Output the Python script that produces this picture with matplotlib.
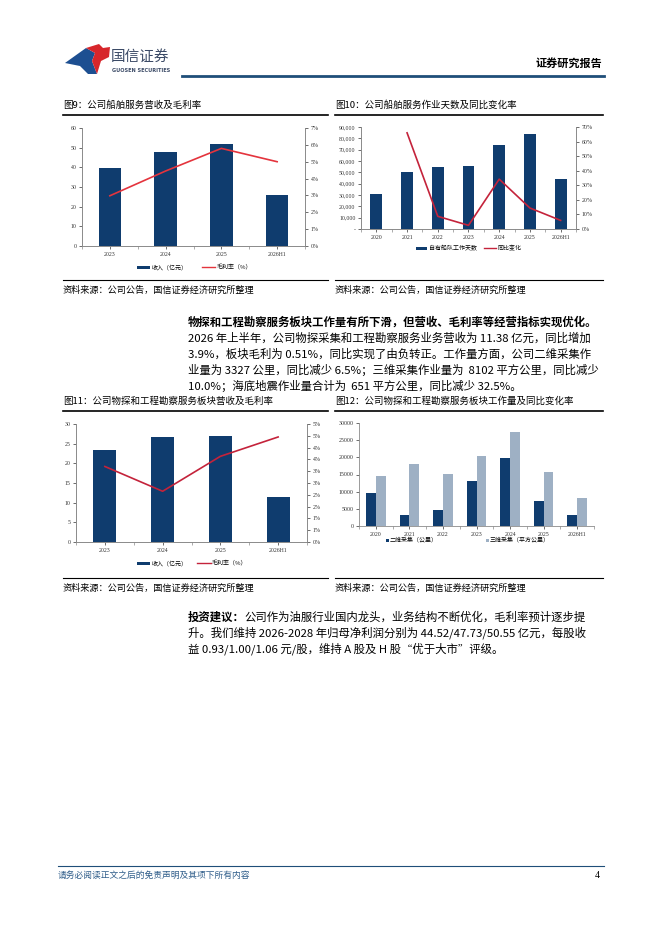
import numpy as np
import matplotlib
matplotlib.use('Agg')
import matplotlib.pyplot as plt
from matplotlib.patches import Polygon, Rectangle
from matplotlib.lines import Line2D

plt.rcParams['font.family'] = ['Noto Sans CJK SC', 'DejaVu Sans']

W, H = 662, 936
NAVY = '#0f3c6e'
LIGHT = '#9eb0c4'
RED9 = '#e4343d'
RED = '#c4233b'
AX = '#8a8a8a'
SERIF = ['Liberation Serif', 'DejaVu Serif']

# --- data -------------------------------------------------------------
yrs9 = ['2023', '2024', '2025', '2026H1']
rev9 = [39.5, 47.6, 51.9, 25.9]            # 亿元
gm9 = [2.98, 4.45, 5.79, 5.00]             # %

yrs10 = ['2020', '2021', '2022', '2023', '2024', '2025', '2026H1']
days10 = [30500, 50100, 54500, 55700, 74200, 83900, 44000]
yoy10 = [np.nan, 66.0, 8.7, 2.5, 34.2, 14.4, 5.9]   # %

yrs11 = ['2023', '2024', '2025', '2026H1']
rev11 = [23.5, 26.7, 26.9, 11.4]
gm11 = [3.2, 2.15, 3.63, 4.45]

yrs12 = ['2020', '2021', '2022', '2023', '2024', '2025', '2026H1']
d2 = [9580, 3290, 4550, 13060, 19830, 7160, 3190]    # 公里
d3 = [14500, 18090, 15190, 20310, 27270, 15770, 8120]  # 平方公里


def rect(x0, y0, x1, y1):
    return [x0 / W, 1 - y1 / H, (x1 - x0) / W, (y1 - y0) / H]


def style(ax, right=True):
    for s in ['left', 'bottom', 'right']:
        ax.spines[s].set_color(AX)
        ax.spines[s].set_linewidth(0.6)
    ax.spines['top'].set_visible(False)
    if not right:
        ax.spines['right'].set_visible(False)
    ax.tick_params(direction='out', length=2, width=0.5, colors='#333333',
                   labelsize=4.2, pad=2)
    for lab in ax.get_xticklabels() + ax.get_yticklabels():
        lab.set_family(SERIF)


def cat_ticks(ax, labels):
    n = len(labels)
    ax.set_xlim(-0.5, n - 0.5)
    ax.set_xticks(np.arange(n))
    ax.set_xticklabels(labels)
    ax.set_xticks(np.arange(-0.5, n, 1), minor=True)
    ax.tick_params(axis='x', which='major', length=0)
    ax.tick_params(axis='x', which='minor', length=2, width=0.5, color=AX)


fig = plt.figure(figsize=(W / 100, H / 100), dpi=100)
bg = fig.add_axes([0, 0, 1, 1])
bg.set_xlim(0, W)
bg.set_ylim(H, 0)
bg.axis('off')

# --- header -----------------------------------------------------------
bg.add_patch(Polygon([(65, 63), (86, 48), (95, 53), (92, 61), (97, 74), (88, 74), (80, 66)],
                     closed=True, color='#1d4f91', lw=0))
bg.add_patch(Polygon([(86, 48), (99, 44), (103, 48), (110, 47), (109, 57), (101, 61), (97, 74), (92, 61), (95, 53)],
                     closed=True, color='#d7262b', lw=0))
bg.text(111, 57, '国信证券', fontsize=10.5, color='#3b4a66', va='center', ha='left')
bg.text(112, 71, 'GUOSEN SECURITIES', fontsize=3.6, color='#3b4a66', va='center',
        ha='left', family=['DejaVu Sans'], weight='bold')
bg.plot([182, 604], [76, 76], color='#1f4e79', lw=2)
bg.text(602, 63, '证券研究报告', fontsize=8, weight='bold', ha='right', va='center')

# --- panel frames -----------------------------------------------------
titles = [(63, 105, '图9：公司船舶服务营收及毛利率', 63, 328),
          (335, 105, '图10：公司船舶服务作业天数及同比变化率', 335, 603),
          (63, 401, '图11：公司物探和工程勘察服务板块营收及毛利率', 63, 328),
          (335, 401, '图12：公司物探和工程勘察服务板块工作量及同比变化率', 335, 603)]
for x, y, t, a, b in titles:
    bg.text(x, y, t, fontsize=6.8, ha='left', va='center')
    bg.plot([a, b], [y + 10, y + 10], color='black', lw=1.2)

for a, b, y in [(63, 328, 280), (335, 603, 280), (63, 328, 578), (335, 603, 578)]:
    bg.plot([a, b], [y, y], color='black', lw=0.8)
    bg.text(a, y + 10, '资料来源：公司公告，国信证券经济研究所整理', fontsize=6.6,
            ha='left', va='center')

# --- chart 9 ----------------------------------------------------------
ax = fig.add_axes(rect(82, 128, 305, 246))
x = np.arange(len(yrs9))
ax.bar(x, rev9, width=0.4, color=NAVY)
cat_ticks(ax, yrs9)
ax.set_ylim(0, 60)
ax.set_yticks(np.arange(0, 61, 10))
style(ax)
ax2 = ax.twinx()
ax2.plot(x, gm9, color=RED9, lw=1.2)
ax2.set_ylim(0, 7)
ax2.set_yticks(np.arange(0, 8))
ax2.set_yticklabels([f'{i}%' for i in range(8)])
style(ax2)

bg.add_patch(Rectangle((137, 265.5), 13, 3, color=NAVY, lw=0))
bg.text(152, 267, '收入（亿元）', fontsize=4.3, va='center')
bg.add_line(Line2D([202, 215], [267, 267], color=RED9, lw=1))
bg.text(217, 267, '毛利率（%）', fontsize=4.3, va='center')

# --- chart 10 ---------------------------------------------------------
ax = fig.add_axes(rect(361, 127, 576, 229))
x = np.arange(len(yrs10))
ax.bar(x, days10, width=0.39, color=NAVY)
cat_ticks(ax, yrs10)
ax.set_ylim(0, 90000)
ax.set_yticks(np.arange(0, 90001, 10000))
ax.set_yticklabels(['-'] + [f'{v:,}' for v in range(10000, 90001, 10000)])
style(ax)
ax2 = ax.twinx()
ax2.plot(x, yoy10, color=RED, lw=1.2)
ax2.set_ylim(0, 70)
ax2.set_yticks(np.arange(0, 71, 10))
ax2.set_yticklabels([f'{v}%' for v in range(0, 71, 10)])
style(ax2)

bg.add_patch(Rectangle((416, 246.5), 11, 3, color=NAVY, lw=0))
bg.text(429, 248, '自有船队工作天数', fontsize=4.3, va='center')
bg.add_line(Line2D([484, 496], [248, 248], color=RED, lw=1))
bg.text(498, 248, '同比变化', fontsize=4.3, va='center')

# --- chart 11 ---------------------------------------------------------
ax = fig.add_axes(rect(76, 424, 307, 542))
x = np.arange(len(yrs11))
ax.bar(x, rev11, width=0.4, color=NAVY)
cat_ticks(ax, yrs11)
ax.set_ylim(0, 30)
ax.set_yticks(np.arange(0, 31, 5))
style(ax)
ax2 = ax.twinx()
ax2.plot(x, gm11, color=RED, lw=1.2)
ax2.set_ylim(0, 5)
ax2.set_yticks(np.arange(0, 5.01, 0.5))
ax2.set_yticklabels(['0%', '1%', '1%', '2%', '2%', '3%', '3%', '4%', '4%', '5%', '5%'])
style(ax2)

bg.add_patch(Rectangle((137, 561.5), 13, 3, color=NAVY, lw=0))
bg.text(152, 563, '收入（亿元）', fontsize=4.3, va='center')
bg.add_line(Line2D([197, 211], [563, 563], color=RED, lw=1))
bg.text(212, 563, '毛利率（%）', fontsize=4.3, va='center')

# --- chart 12 ---------------------------------------------------------
ax = fig.add_axes(rect(359, 423, 594, 526))
x = np.arange(len(yrs12))
ax.bar(x - 0.145, d2, width=0.29, color=NAVY)
ax.bar(x + 0.145, d3, width=0.29, color=LIGHT)
cat_ticks(ax, yrs12)
ax.set_ylim(0, 30000)
ax.set_yticks(np.arange(0, 30001, 5000))
style(ax, right=False)

bg.add_patch(Rectangle((386, 538.5), 3, 3, color=NAVY, lw=0))
bg.text(390, 540, '二维采集（公里）', fontsize=4.3, va='center')
bg.add_patch(Rectangle((486, 538.5), 3, 3, color=LIGHT, lw=0))
bg.text(490, 540, '三维采集（平方公里）', fontsize=4.3, va='center')

# --- body text --------------------------------------------------------
FS = 8.2
LS = 16
para1 = ['2026 年上半年，公司物探采集和工程勘察服务业务营收为 11.38 亿元，同比增加',
         '3.9%，板块毛利为 0.51%，同比实现了由负转正。工作量方面，公司二维采集作',
         '业量为 3327 公里，同比减少 6.5%；三维采集作业量为  8102 平方公里，同比减少',
         '10.0%；海底地震作业量合计为  651 平方公里，同比减少 32.5%。']
bg.text(188, 322, '物探和工程勘察服务板块工作量有所下滑，但营收、毛利率等经营指标实现优化。',
        fontsize=FS, weight='bold', va='center')
for i, line in enumerate(para1):
    bg.text(188, 322 + LS * (i + 1), line, fontsize=FS, va='center')

t = bg.text(188, 617, '投资建议：', fontsize=FS, weight='bold', va='center')
bg.annotate('公司作为油服行业国内龙头，业务结构不断优化，毛利率预计逐步提',
            xy=(1, 0.5), xycoords=t, va='center', ha='left', fontsize=FS)
para2 = ['升。我们维持 2026-2028 年归母净利润分别为 44.52/47.73/50.55 亿元，每股收',
         '益 0.93/1.00/1.06 元/股，维持 A 股及 H 股“优于大市”评级。']
for i, line in enumerate(para2):
    bg.text(188, 617 + LS * (i + 1), line, fontsize=FS, va='center')

# --- footer -----------------------------------------------------------
bg.plot([58, 604], [866, 866], color='#1f4e79', lw=0.8)
bg.text(58, 875, '请务必阅读正文之后的免责声明及其项下所有内容', fontsize=6.3,
        color='#2f5d8a', va='center', style='italic')
bg.text(600, 875, '4', fontsize=7, va='center', ha='right', family=SERIF)

fig.savefig('out.png', dpi=100)
